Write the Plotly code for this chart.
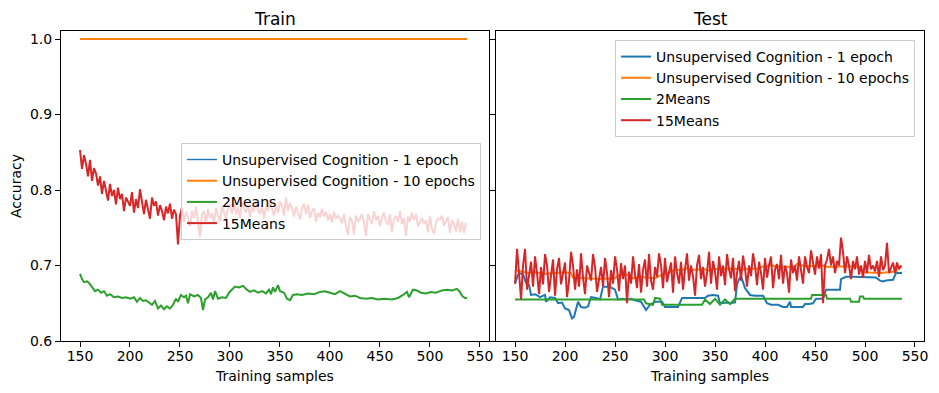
import plotly.graph_objects as go

labels = ["Unsupervised Cognition - 1 epoch", "Unsupervised Cognition - 10 epochs", "2Means", "15Means"]
colors = ["#1f77b4", "#ff7f0e", "#2ca02c", "#d62728"]
x_ticks = [150, 200, 250, 300, 350, 400, 450, 500, 550]
y_ticks = [0.6, 0.7, 0.8, 0.9, 1.0]

# ---------- Train ----------
train_uc1_x = [150, 537]
train_uc1_y = [1.0, 1.0]
train_uc10_x = [150, 537]
train_uc10_y = [1.0, 1.0]

train_2m_x = [150,152,154,157,159,162,165,168,171,174,177,180,184,188,192,196,200,204,207,210,213,216,219,222,225,228,231,234,237,240,243,246,248,251,254,256,258,260,264,268,271,273,275,278,281,283,285,288,292,296,299,302,305,309,313,317,320,324,328,332,336,339,341,343,345,348,350,354,357,360,363,367,372,378,384,390,395,400,405,410,415,420,425,430,436,442,448,455,462,468,473,477,479,483,487,491,496,501,506,512,517,522,527,530,532,535,537]
train_2m_y = [0.689,0.682,0.678,0.679,0.677,0.672,0.666,0.668,0.664,0.666,0.660,0.662,0.658,0.659,0.657,0.658,0.656,0.658,0.652,0.657,0.653,0.654,0.651,0.648,0.653,0.643,0.647,0.642,0.646,0.643,0.648,0.656,0.652,0.661,0.658,0.660,0.650,0.662,0.659,0.661,0.657,0.641,0.655,0.658,0.664,0.655,0.666,0.656,0.658,0.657,0.664,0.668,0.672,0.671,0.673,0.668,0.665,0.667,0.664,0.666,0.663,0.668,0.662,0.671,0.665,0.674,0.666,0.664,0.656,0.654,0.661,0.662,0.661,0.663,0.662,0.665,0.666,0.664,0.662,0.666,0.663,0.659,0.660,0.657,0.656,0.657,0.655,0.656,0.655,0.657,0.661,0.665,0.658,0.668,0.667,0.664,0.663,0.665,0.664,0.667,0.668,0.667,0.669,0.665,0.660,0.657,0.657]

train_15m_y = [0.853,0.828,0.846,0.835,0.818,0.840,0.812,0.829,0.822,0.806,
               0.818,0.795,0.812,0.800,0.786,0.808,0.792,0.800,0.781,0.803,
               0.788,0.795,0.772,0.790,0.784,0.779,0.797,0.770,0.788,0.776,
               0.801,0.783,0.768,0.787,0.775,0.762,0.790,0.779,0.785,0.766,
               0.780,0.772,0.760,0.778,0.769,0.782,0.762,0.774,0.768,0.728,
               0.766,0.777,0.758,0.771,0.764,0.752,0.772,0.763,0.778,0.758,
               0.738,0.768,0.772,0.756,0.775,0.763,0.769,0.757,0.776,0.766,
               0.758,0.779,0.770,0.762,0.776,0.781,0.768,0.783,0.767,0.777,
               0.763,0.784,0.775,0.770,0.781,0.764,0.779,0.771,0.786,0.774,
               0.768,0.780,0.762,0.778,0.772,0.788,0.775,0.766,0.780,0.770,
               0.785,0.779,0.766,0.790,0.772,0.783,0.776,0.765,0.778,0.770,
               0.761,0.775,0.782,0.768,0.781,0.763,0.772,0.776,0.758,0.770,
               0.764,0.775,0.765,0.771,0.760,0.768,0.757,0.771,0.762,0.766,
               0.762,0.756,0.768,0.752,0.740,0.764,0.759,0.741,0.766,0.758,
               0.762,0.768,0.757,0.739,0.768,0.761,0.755,0.772,0.760,0.766,
               0.752,0.763,0.770,0.758,0.754,0.768,0.744,0.762,0.765,0.758,
               0.772,0.755,0.763,0.739,0.765,0.758,0.770,0.760,0.768,0.752,
               0.757,0.763,0.755,0.760,0.744,0.765,0.748,0.742,0.757,0.762,
               0.761,0.766,0.753,0.758,0.764,0.743,0.760,0.755,0.745,0.762,
               0.744,0.758,0.743,0.757]
train_15m_x = [150 + 2 * i for i in range(len(train_15m_y))]

# ---------- Test ----------
test_uc1_x = [150,153,155,158,161,164,166,170,175,180,181,185,190,193,197,200,204,207,209,213,216,220,223,226,231,235,238,242,246,250,253,258,261,266,270,276,281,285,290,297,300,305,313,317,323,327,333,340,343,348,353,355,363,365,370,372,374,376,380,385,390,392,398,402,406,410,413,418,422,425,426,428,433,438,440,444,448,451,455,458,461,468,475,476,480,481,488,495,498,505,511,515,518,521,525,528,531,534,537]
test_uc1_y = [0.676,0.688,0.690,0.688,0.677,0.674,0.661,0.662,0.658,0.661,0.652,0.658,0.657,0.650,0.651,0.643,0.641,0.630,0.632,0.652,0.645,0.644,0.646,0.658,0.657,0.655,0.672,0.672,0.671,0.668,0.655,0.656,0.655,0.656,0.654,0.652,0.641,0.648,0.652,0.652,0.645,0.645,0.645,0.657,0.657,0.657,0.656,0.657,0.660,0.661,0.660,0.650,0.651,0.650,0.651,0.675,0.682,0.686,0.670,0.661,0.660,0.660,0.660,0.650,0.648,0.648,0.648,0.645,0.645,0.652,0.645,0.645,0.645,0.645,0.649,0.649,0.650,0.656,0.656,0.656,0.668,0.668,0.668,0.682,0.684,0.685,0.685,0.685,0.684,0.684,0.684,0.680,0.679,0.680,0.680,0.681,0.690,0.690,0.690]

test_uc10_x = [150,158,163,170,180,190,200,206,208,220,235,250,253,262,266,268,276,280,290,297,305,310,318,320,325,340,345,347,360,380,393,395,402,404,410,422,430,432,440,460,462,480,495,498,515,531,533,537]
test_uc10_y = [0.694,0.692,0.690,0.691,0.689,0.690,0.691,0.690,0.684,0.683,0.682,0.683,0.687,0.688,0.686,0.683,0.685,0.684,0.683,0.688,0.691,0.694,0.694,0.697,0.694,0.695,0.693,0.695,0.696,0.695,0.696,0.698,0.699,0.701,0.699,0.698,0.699,0.702,0.699,0.700,0.698,0.699,0.698,0.691,0.690,0.692,0.697,0.699]

test_2m_x = [150,279,281,288,290,295,297,337,340,345,350,355,360,365,370,446,447,461,462,485,486,494,495,498,499,537]
test_2m_y = [0.655,0.655,0.650,0.648,0.657,0.656,0.648,0.648,0.655,0.649,0.656,0.648,0.655,0.649,0.656,0.656,0.661,0.661,0.656,0.656,0.652,0.652,0.659,0.659,0.656,0.656]

test_15m_y = [0.676,0.722,0.690,0.655,0.700,0.722,0.668,0.684,0.705,0.672,
              0.712,0.690,0.662,0.698,0.675,0.715,0.700,0.665,0.688,0.708,
              0.660,0.695,0.710,0.675,0.690,0.704,0.658,0.680,0.718,0.700,
              0.668,0.695,0.672,0.716,0.684,0.662,0.700,0.690,0.680,0.715,
              0.698,0.665,0.685,0.698,0.672,0.710,0.690,0.658,0.694,0.676,
              0.712,0.695,0.666,0.703,0.682,0.700,0.650,0.692,0.676,0.712,
              0.688,0.670,0.702,0.664,0.694,0.708,0.672,0.715,0.680,0.668,
              0.698,0.685,0.716,0.700,0.670,0.710,0.678,0.692,0.704,0.664,
              0.712,0.690,0.676,0.705,0.668,0.695,0.716,0.680,0.700,0.686,
              0.660,0.700,0.714,0.682,0.698,0.672,0.690,0.718,0.676,0.706,
              0.692,0.668,0.712,0.686,0.700,0.674,0.715,0.695,0.683,0.710,
              0.666,0.690,0.706,0.680,0.713,0.696,0.672,0.700,0.686,0.716,
              0.700,0.674,0.705,0.690,0.668,0.710,0.684,0.700,0.712,0.670,
              0.695,0.702,0.682,0.714,0.676,0.700,0.690,0.664,0.708,0.690,
              0.700,0.680,0.712,0.694,0.676,0.712,0.698,0.690,0.720,0.704,
              0.688,0.712,0.696,0.715,0.650,0.700,0.708,0.722,0.700,0.712,
              0.690,0.706,0.700,0.737,0.718,0.690,0.712,0.700,0.682,0.706,
              0.695,0.712,0.688,0.700,0.684,0.706,0.690,0.714,0.695,0.700,
              0.692,0.706,0.685,0.712,0.694,0.700,0.730,0.690,0.698,0.704,
              0.690,0.704,0.695,0.700]
test_15m_x = [150 + 2 * i for i in range(len(test_15m_y))]

FONT = "DejaVu Sans"
FS = 14
fig = go.Figure()

train_sets = [(train_uc1_x, train_uc1_y), (train_uc10_x, train_uc10_y), (train_2m_x, train_2m_y), (train_15m_x, train_15m_y)]
test_sets = [(test_uc1_x, test_uc1_y), (test_uc10_x, test_uc10_y), (test_2m_x, test_2m_y), (test_15m_x, test_15m_y)]

for k, ((xs, ys), name, c) in enumerate(zip(train_sets, labels, colors)):
    w = 1.4 if k == 0 else 2
    fig.add_trace(go.Scatter(x=xs, y=ys, mode="lines", name=name, line=dict(color=c, width=w),
                             xaxis="x", yaxis="y", legend="legend"))
for (xs, ys), name, c in zip(test_sets, labels, colors):
    fig.add_trace(go.Scatter(x=xs, y=ys, mode="lines", name=name, line=dict(color=c, width=2),
                             xaxis="x2", yaxis="y2", legend="legend2"))

axis_common = dict(showline=True, mirror=True, linecolor="black", linewidth=1, ticks="outside",
                   ticklen=5, tickcolor="black", showgrid=False, zeroline=False, automargin=False,
                   tickfont=dict(family=FONT, size=FS, color="black"))

# The page body adds an 8px offset; the figure is sized so that it fills the 939x393 window.
fig.update_layout(
    width=931, height=385,
    margin=dict(l=53, r=15, t=23, b=52, autoexpand=False),
    paper_bgcolor="white", plot_bgcolor="white",
    font=dict(family=FONT, size=FS, color="black"),
    xaxis=dict(domain=[0, 0.4959], range=[131, 559], tickvals=x_ticks, anchor="y", ticklabelstandoff=-3,
               title=dict(text="Training samples", font=dict(family=FONT, size=FS), standoff=8), **axis_common),
    xaxis2=dict(domain=[0.5041, 1], range=[131, 559], tickvals=x_ticks, anchor="y2", ticklabelstandoff=-3,
                title=dict(text="Training samples", font=dict(family=FONT, size=FS), standoff=8), **axis_common),
    yaxis=dict(domain=[0, 1], range=[0.6, 1.0106], tickvals=y_ticks, tickformat=".1f", anchor="x",
               title=dict(text="Accuracy", font=dict(family=FONT, size=FS), standoff=8), **axis_common),
    yaxis2=dict(domain=[0, 1], range=[0.6, 1.0106], tickvals=y_ticks, showticklabels=False, anchor="x2",
                matches="y", **axis_common),
    legend=dict(x=0.139, y=0.639, xanchor="left", yanchor="top", bgcolor="rgba(255,255,255,0.8)",
                bordercolor="#cccccc", borderwidth=1, itemwidth=30, tracegroupgap=0,
                font=dict(family=FONT, size=FS)),
    legend2=dict(x=0.642, y=0.971, xanchor="left", yanchor="top", bgcolor="rgba(255,255,255,0.8)",
                 bordercolor="#cccccc", borderwidth=1, itemwidth=30, tracegroupgap=0,
                 font=dict(family=FONT, size=FS)),
    annotations=[
        dict(text="Train", x=0.24795, y=1, xref="paper", yref="paper", xanchor="center", yanchor="bottom",
             yshift=0, showarrow=False, font=dict(family=FONT, size=17, color="black")),
        dict(text="Test", x=0.75205, y=1, xref="paper", yref="paper", xanchor="center", yanchor="bottom",
             yshift=0, showarrow=False, font=dict(family=FONT, size=17, color="black")),
    ],
    showlegend=True,
)

fig.write_html("out.html")
